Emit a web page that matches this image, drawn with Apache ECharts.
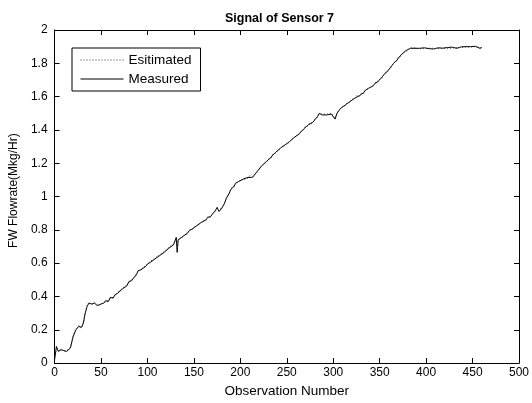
<!DOCTYPE html>
<html>
<head>
<meta charset="utf-8">
<script src="https://cdn.jsdelivr.net/npm/echarts@6/dist/echarts.min.js"></script>
<style>html,body{margin:0;padding:0;background:#fff}#c{width:532px;height:403px}</style>
</head>
<body>
<div id="c"></div>
<script>
var obs = [0,2,4,7,10,13,15,17,20,23,26,29,31,33,35,37,40,43,46,48,50,53,55,58,60,63,65,68,70,73,75,78,80,83,85,88,90,93,95,98,100,103,105,108,110,113,115,118,120,123,125,128,130,131,132,133,135,138,140,143,145,148,150,153,155,158,160,163,165,168,170,173,175,177,178,180,183,185,188,190,193,195,198,200,203,205,208,210,213,215,218,220,223,225,228,230,233,235,238,240,243,245,248,250,253,255,258,260,263,265,268,270,273,275,278,280,283,285,288,290,293,295,298,300,302,304,306,308,310,313,315,318,320,323,325,328,330,333,335,338,340,343,345,348,350,353,355,358,360,363,365,368,370,373,375,378,380,383,385,388,390,393,395,398,400,403,405,408,410,413,415,418,420,423,425,428,430,433,435,438,440,443,445,448,450,453,455,458,460];
var measured = [0.02,0.10,0.07,0.08,0.075,0.07,0.065,0.09,0.16,0.20,0.22,0.215,0.24,0.30,0.34,0.36,0.355,0.36,0.345,0.34,0.355,0.36,0.375,0.37,0.395,0.39,0.41,0.42,0.425,0.445,0.455,0.465,0.49,0.495,0.51,0.53,0.555,0.56,0.565,0.58,0.595,0.605,0.615,0.625,0.635,0.645,0.655,0.665,0.675,0.69,0.70,0.71,0.72,0.755,0.665,0.74,0.745,0.76,0.765,0.78,0.795,0.805,0.81,0.825,0.83,0.845,0.85,0.86,0.875,0.88,0.895,0.915,0.935,0.91,0.91,0.93,0.96,0.99,1.02,1.045,1.06,1.08,1.09,1.095,1.105,1.10,1.115,1.12,1.115,1.125,1.15,1.16,1.185,1.19,1.21,1.22,1.235,1.25,1.265,1.27,1.29,1.295,1.31,1.315,1.33,1.34,1.355,1.36,1.375,1.385,1.405,1.415,1.43,1.44,1.445,1.46,1.48,1.50,1.49,1.495,1.49,1.49,1.495,1.485,1.465,1.50,1.515,1.53,1.535,1.55,1.56,1.57,1.58,1.59,1.60,1.605,1.615,1.625,1.64,1.65,1.655,1.665,1.68,1.69,1.70,1.72,1.735,1.75,1.76,1.785,1.80,1.815,1.83,1.85,1.86,1.875,1.885,1.89,1.888,1.89,1.885,1.89,1.888,1.893,1.89,1.888,1.892,1.886,1.89,1.893,1.887,1.891,1.888,1.895,1.89,1.897,1.893,1.89,1.896,1.899,1.894,1.90,1.895,1.90,1.896,1.902,1.898,1.89,1.895];
var estimated = [0.03,0.09,0.075,0.085,0.07,0.075,0.07,0.095,0.165,0.205,0.225,0.21,0.245,0.305,0.345,0.365,0.35,0.365,0.35,0.345,0.35,0.365,0.37,0.375,0.39,0.395,0.405,0.425,0.42,0.45,0.45,0.47,0.485,0.50,0.505,0.535,0.55,0.565,0.56,0.585,0.59,0.61,0.61,0.63,0.63,0.65,0.65,0.67,0.67,0.695,0.695,0.715,0.715,0.74,0.68,0.73,0.75,0.755,0.77,0.775,0.80,0.80,0.815,0.82,0.835,0.84,0.855,0.855,0.88,0.875,0.90,0.91,0.93,0.915,0.905,0.935,0.955,0.995,1.015,1.05,1.055,1.085,1.085,1.10,1.10,1.105,1.11,1.125,1.11,1.13,1.145,1.165,1.18,1.195,1.205,1.225,1.23,1.255,1.26,1.275,1.285,1.30,1.305,1.32,1.325,1.345,1.35,1.365,1.37,1.39,1.40,1.42,1.425,1.445,1.44,1.465,1.475,1.495,1.495,1.49,1.495,1.485,1.50,1.49,1.47,1.495,1.52,1.525,1.54,1.545,1.565,1.565,1.585,1.585,1.605,1.60,1.62,1.62,1.645,1.645,1.66,1.66,1.685,1.685,1.705,1.715,1.74,1.745,1.765,1.78,1.805,1.81,1.835,1.845,1.865,1.87,1.88,1.893,1.885,1.893,1.888,1.887,1.892,1.89,1.886,1.891,1.889,1.89,1.893,1.888,1.89,1.889,1.894,1.888,1.893,1.892,1.895,1.894,1.898,1.895,1.897,1.898,1.896,1.898,1.899,1.90,1.896,1.892,1.893];
var xTicks = {min: 0, max: 500, interval: 50};
var yTicks = {min: 0, max: 2, interval: 0.2};
var title = 'Signal of Sensor 7';
var xName = 'Observation Number';
var yName = 'FW Flowrate(Mkg/Hr)';
var seriesNames = ['Esitimated', 'Measured'];

function pairs(xs, ys){ return xs.map(function(x,i){ return [x, ys[i]]; }); }

var font = 'Liberation Sans, Arial, sans-serif';
var axisCommon = {
  axisLine: {show: true, onZero: false, lineStyle: {color: '#000', width: 1}},
  axisTick: {show: true, inside: true, length: 5, lineStyle: {color: '#000'}},
  splitLine: {show: false}
};
var chart = echarts.init(document.getElementById('c'), null, {renderer: 'canvas'});
chart.setOption({
  animation: false,
  backgroundColor: '#fff',
  title: {text: title, left: 220, top: 7, textStyle: {fontFamily: font, fontSize: 12.5, fontWeight: 'bold', color: '#000'}},
  grid: {left: 54, right: 12, top: 30, bottom: 37},
  legend: {
    orient: 'vertical', left: 72, top: 48,
    data: seriesNames,
    itemWidth: 43, itemHeight: 14, itemGap: 5,
    padding: [5, 9, 5, 8],
    borderColor: '#000', borderWidth: 1, backgroundColor: '#fff',
    itemStyle: {color: 'rgba(0,0,0,0)', borderWidth: 0, opacity: 0},
    lineStyle: {width: 1},
    textStyle: {fontFamily: font, fontSize: 13.5, color: '#000'}
  },
  xAxis: [
    Object.assign({type: 'value', position: 'bottom', min: xTicks.min, max: xTicks.max, interval: xTicks.interval,
      name: xName, nameLocation: 'middle', nameGap: 17,
      nameTextStyle: {fontFamily: font, fontSize: 13.5, color: '#000'},
      axisLabel: {fontFamily: font, fontSize: 12, color: '#000', margin: 4}}, axisCommon),
    Object.assign({type: 'value', position: 'top', min: xTicks.min, max: xTicks.max, interval: xTicks.interval,
      axisLabel: {show: false}}, axisCommon)
  ],
  yAxis: [
    Object.assign({type: 'value', position: 'left', min: yTicks.min, max: yTicks.max, interval: yTicks.interval,
      name: yName, nameLocation: 'middle', nameGap: 34,
      nameTextStyle: {fontFamily: font, fontSize: 12, color: '#000', padding: [0, 0, 0, 12]},
      axisLabel: {fontFamily: font, fontSize: 12, color: '#000', margin: 7,
        formatter: function(v){ return String(Math.round(v*10)/10); }}}, axisCommon),
    Object.assign({type: 'value', position: 'right', min: yTicks.min, max: yTicks.max, interval: yTicks.interval,
      axisLabel: {show: false}}, axisCommon)
  ],
  series: [
    {name: seriesNames[0], type: 'line', data: pairs(obs, estimated), showSymbol: false, symbol: 'none',
      lineStyle: {color: '#333', width: 1, type: [1, 2]}, itemStyle: {color: '#333'}, z: 3},
    {name: seriesNames[1], type: 'line', data: pairs(obs, measured), showSymbol: false, symbol: 'none',
      lineStyle: {color: '#000', width: 1, type: 'solid'}, itemStyle: {color: '#000'}, z: 2}
  ]
});
</script>
</body>
</html>
